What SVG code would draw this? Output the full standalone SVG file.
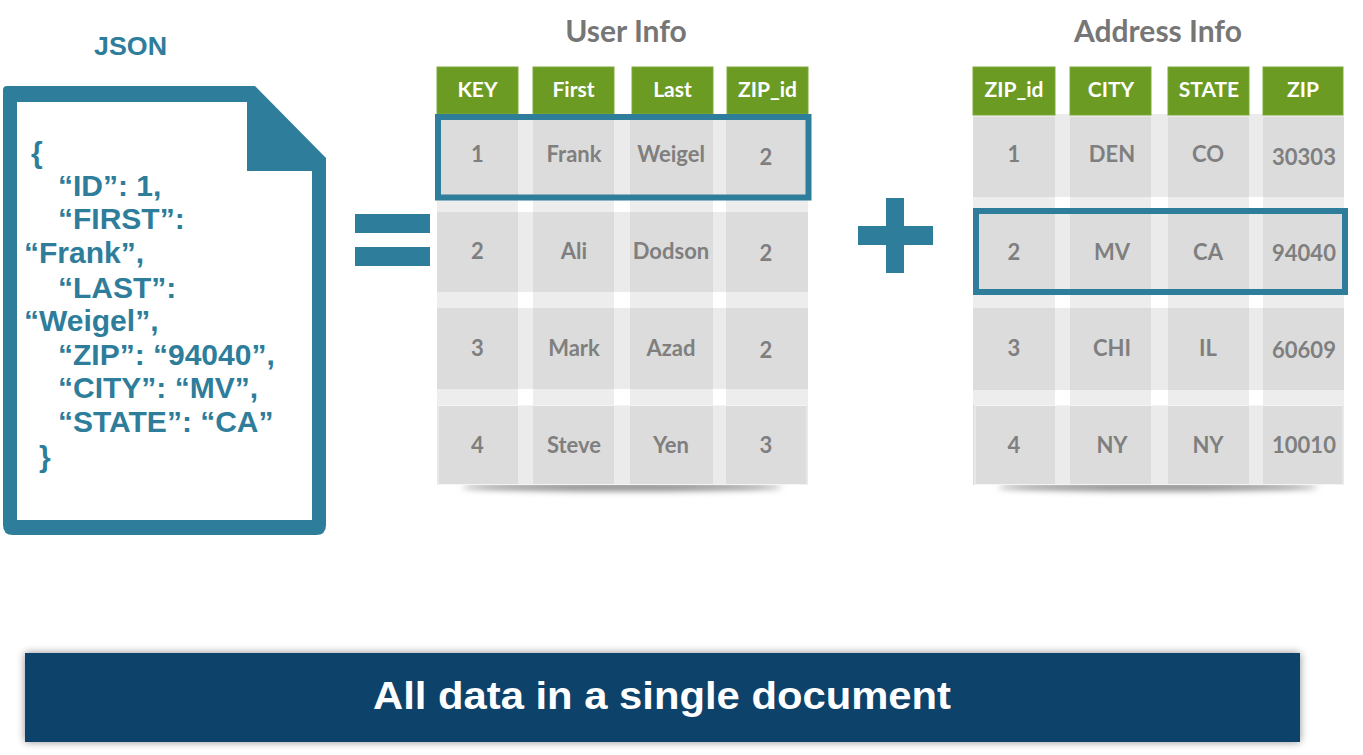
<svg xmlns="http://www.w3.org/2000/svg" width="1363" height="755" viewBox="0 0 1363 755">
<style>
.teal{fill:#2E7D9B}
.json{font-family:"Liberation Sans",Arial,sans-serif;font-weight:bold;font-size:30px;fill:#2E7D9B}
.title{font-family:Lato,"Open Sans",sans-serif;font-weight:bold;font-size:30px;fill:#767676;text-anchor:middle}
.hdr{fill:#6B9B23;stroke:#7DAA38;stroke-width:1}
.htxt{font-family:Lato,"Open Sans",sans-serif;font-weight:bold;font-size:21px;fill:#FFFFFF;text-anchor:middle}
.ctxt{font-family:Lato,"Open Sans",sans-serif;font-weight:bold;font-size:22px;fill:#7F7F7F;text-anchor:middle}
.col{fill:#EDEDED}
.row{fill:#EBEBEB}
.cell{fill:#DCDCDC}
.hl{fill:none;stroke:#2E7D9B;stroke-width:6}
</style>
<defs>
<filter id="sh" x="-5%" y="-30%" width="110%" height="160%">
<feGaussianBlur in="SourceAlpha" stdDeviation="4"/>
<feComponentTransfer><feFuncA type="linear" slope="0.45"/></feComponentTransfer>
<feMerge><feMergeNode/><feMergeNode in="SourceGraphic"/></feMerge>
</filter>
<filter id="blur" x="-20%" y="-200%" width="140%" height="500%">
<feGaussianBlur stdDeviation="3"/>
</filter>
</defs>
<rect width="1363" height="755" fill="#FFFFFF"/>

<g id="json-doc">
<text x="130.5" y="55" font-family="Liberation Sans,Arial,sans-serif" font-weight="bold" font-size="25" fill="#2E7D9B" text-anchor="middle" textLength="73" lengthAdjust="spacingAndGlyphs">JSON</text>
<path class="teal" d="M7,86 H255 L326,158 V525 Q326,535 316,535 H13 Q3,535 3,525 V90 Q3,86 7,86 Z"/>
<path fill="#FFFFFF" d="M17,102 H247 V171 H312 V520 H17 Z"/>
<text class="json" x="31" y="163">{</text>
<text class="json" x="58" y="196">“ID”: 1,</text>
<text class="json" x="58" y="229">“FIRST”:</text>
<text class="json" x="24" y="263">“Frank”,</text>
<text class="json" x="58" y="298">“LAST”:</text>
<text class="json" x="24" y="331">“Weigel”,</text>
<text class="json" x="58" y="365">“ZIP”: “94040”,</text>
<text class="json" x="58" y="398">“CITY”: “MV”,</text>
<text class="json" x="58" y="432">“STATE”: “CA”</text>
<text class="json" x="39" y="467">}</text>
</g>

<g id="equals">
<rect class="teal" x="355" y="214" width="75" height="19"/>
<rect class="teal" x="355" y="247" width="75" height="19"/>
</g>

<g id="plus">
<rect class="teal" x="886" y="198" width="18" height="75"/>
<rect class="teal" x="858" y="226" width="75" height="19"/>
</g>

<g id="user-info">
<text class="title" x="626" y="42">User Info</text>
<ellipse cx="622" cy="487" rx="160" ry="4" fill="#888888" filter="url(#blur)"/>
<rect class="col" x="437" y="114" width="81" height="371"/>
<rect class="col" x="533" y="114" width="81" height="371"/>
<rect class="col" x="630" y="114" width="83" height="371"/>
<rect class="col" x="726" y="114" width="82" height="371"/>
<rect class="row" x="437" y="114" width="371" height="83"/>
<rect class="row" x="437" y="212" width="371" height="80"/>
<rect class="row" x="437" y="308" width="371" height="81"/>
<rect class="row" x="437" y="405" width="371" height="80"/>
<g>
<rect class="cell" x="437" y="117" width="81" height="80"/><rect class="cell" x="533" y="117" width="81" height="80"/><rect class="cell" x="630" y="117" width="83" height="80"/><rect class="cell" x="726" y="117" width="82" height="80"/>
<rect class="cell" x="437" y="212" width="81" height="80"/><rect class="cell" x="533" y="212" width="81" height="80"/><rect class="cell" x="630" y="212" width="83" height="80"/><rect class="cell" x="726" y="212" width="82" height="80"/>
<rect class="cell" x="437" y="308" width="81" height="81"/><rect class="cell" x="533" y="308" width="81" height="81"/><rect class="cell" x="630" y="308" width="83" height="81"/><rect class="cell" x="726" y="308" width="82" height="81"/>
<rect class="cell" x="437" y="405" width="81" height="80"/><rect class="cell" x="533" y="405" width="81" height="80"/><rect class="cell" x="630" y="405" width="83" height="80"/><rect class="cell" x="726" y="405" width="82" height="80"/>
</g>
<rect x="438" y="405.5" width="369" height="79" fill="none" stroke="#F4F4F4" stroke-width="1"/>
<rect class="hdr" x="437" y="67" width="81" height="47"/>
<rect class="hdr" x="533" y="67" width="81" height="47"/>
<rect class="hdr" x="632" y="67" width="81" height="47"/>
<rect class="hdr" x="727" y="67" width="81" height="47"/>
<text class="htxt" x="477.5" y="97">KEY</text>
<text class="htxt" x="573.5" y="97">First</text>
<text class="htxt" x="672.5" y="97">Last</text>
<text class="htxt" x="767.5" y="97">ZIP_id</text>
<text class="ctxt" x="477.5" y="162">1</text><text class="ctxt" x="574" y="162">Frank</text><text class="ctxt" x="671" y="162">Weigel</text><text class="ctxt" x="766" y="165">2</text>
<text class="ctxt" x="477.5" y="259">2</text><text class="ctxt" x="574" y="259">Ali</text><text class="ctxt" x="671" y="259">Dodson</text><text class="ctxt" x="766" y="261">2</text>
<text class="ctxt" x="477.5" y="356">3</text><text class="ctxt" x="574" y="356">Mark</text><text class="ctxt" x="671" y="356">Azad</text><text class="ctxt" x="766" y="358">2</text>
<text class="ctxt" x="477.5" y="453">4</text><text class="ctxt" x="574" y="453">Steve</text><text class="ctxt" x="671" y="453">Yen</text><text class="ctxt" x="766" y="453">3</text>
<rect class="hl" x="438" y="117" width="370.5" height="80.5"/>
</g>

<g id="address-info">
<text class="title" x="1158" y="42">Address Info</text>
<ellipse cx="1158" cy="487" rx="160" ry="4" fill="#888888" filter="url(#blur)"/>
<rect class="col" x="973" y="114" width="82" height="371"/>
<rect class="col" x="1070" y="114" width="81" height="371"/>
<rect class="col" x="1168" y="114" width="81" height="371"/>
<rect class="col" x="1263" y="114" width="81" height="371"/>
<rect class="row" x="973" y="114" width="371" height="83"/>
<rect class="row" x="973" y="212" width="371" height="80"/>
<rect class="row" x="973" y="308" width="371" height="82"/>
<rect class="row" x="973" y="405" width="371" height="80"/>
<g>
<rect class="cell" x="973" y="117" width="82" height="80"/><rect class="cell" x="1070" y="117" width="81" height="80"/><rect class="cell" x="1168" y="117" width="81" height="80"/><rect class="cell" x="1263" y="117" width="81" height="80"/>
<rect class="cell" x="973" y="212" width="82" height="80"/><rect class="cell" x="1070" y="212" width="81" height="80"/><rect class="cell" x="1168" y="212" width="81" height="80"/><rect class="cell" x="1263" y="212" width="81" height="80"/>
<rect class="cell" x="973" y="308" width="82" height="82"/><rect class="cell" x="1070" y="308" width="81" height="82"/><rect class="cell" x="1168" y="308" width="81" height="82"/><rect class="cell" x="1263" y="308" width="81" height="82"/>
<rect class="cell" x="973" y="405" width="82" height="80"/><rect class="cell" x="1070" y="405" width="81" height="80"/><rect class="cell" x="1168" y="405" width="81" height="80"/><rect class="cell" x="1263" y="405" width="81" height="80"/>
</g>
<rect x="975" y="405.5" width="368" height="79" fill="none" stroke="#F4F4F4" stroke-width="1"/>
<rect class="hdr" x="973" y="67" width="82" height="48"/>
<rect class="hdr" x="1070" y="67" width="81" height="48"/>
<rect class="hdr" x="1168" y="67" width="81" height="48"/>
<rect class="hdr" x="1263" y="67" width="80" height="48"/>
<text class="htxt" x="1014" y="97">ZIP_id</text>
<text class="htxt" x="1111" y="97">CITY</text>
<text class="htxt" x="1209" y="97">STATE</text>
<text class="htxt" x="1303" y="97">ZIP</text>
<text class="ctxt" x="1014" y="162">1</text><text class="ctxt" x="1112" y="162">DEN</text><text class="ctxt" x="1208" y="162">CO</text><text class="ctxt" x="1304" y="165">30303</text>
<text class="ctxt" x="1014" y="260">2</text><text class="ctxt" x="1112" y="260">MV</text><text class="ctxt" x="1208" y="260">CA</text><text class="ctxt" x="1304" y="261">94040</text>
<text class="ctxt" x="1014" y="356">3</text><text class="ctxt" x="1112" y="356">CHI</text><text class="ctxt" x="1208" y="356">IL</text><text class="ctxt" x="1304" y="358">60609</text>
<text class="ctxt" x="1014" y="453">4</text><text class="ctxt" x="1112" y="453">NY</text><text class="ctxt" x="1208" y="453">NY</text><text class="ctxt" x="1304" y="453">10010</text>
<rect class="hl" x="976" y="211" width="369" height="81"/>
</g>

<g id="banner">
<rect x="25" y="653" width="1275" height="89" fill="#0A426B" filter="url(#sh)"/>
<text x="662" y="709" font-family="Liberation Sans,Arial,sans-serif" font-weight="bold" font-size="39" fill="#FFFFFF" text-anchor="middle" textLength="578" lengthAdjust="spacingAndGlyphs">All data in a single document</text>
</g>

<g id="connectors"></g>
</svg>
